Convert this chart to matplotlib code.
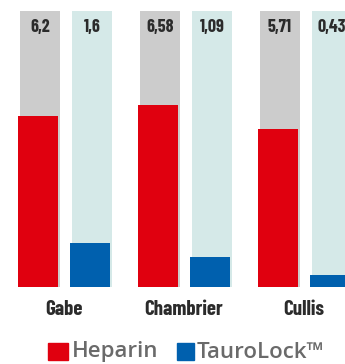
import numpy as np
import matplotlib
matplotlib.use("Agg")
import matplotlib.pyplot as plt
from matplotlib.patches import Rectangle

# Daten
studies = ["Gabe", "Chambrier", "Cullis"]
heparin = [6.2, 6.58, 5.71]
taurolock = [1.6, 1.09, 0.43]
heparin_labels = ["6,2", "6,58", "5,71"]
taurolock_labels = ["1,6", "1,09", "0,43"]
scale_max = 10

red = "#e0000f"
blue = "#0060ae"
grey_bg = "#cccccc"
teal_bg = "#d5e9e8"
text_dark = "#2b2b2b"

W, H = 345, 364
fig = plt.figure(figsize=(W / 100, H / 100), dpi=100)
ax = fig.add_axes([0, 77 / H, 1, 276 / H])

x = np.arange(len(studies))
off = 26 / 120
w = 40 / 120
shift = 2 / 120

# Hintergrundbalken (volle Skala)
ax.bar(x - off + shift, [scale_max] * 3, width=w, color=grey_bg, zorder=1)
ax.bar(x + off + shift, [scale_max] * 3, width=w, color=teal_bg, zorder=1)

# Werte
ax.bar(x - off, heparin, width=w, color=red, zorder=2)
ax.bar(x + off, taurolock, width=w, color=blue, zorder=2)

cond = ["Barlow Condensed", "DejaVu Sans"]
for i in range(len(studies)):
    ax.text(x[i] - off + shift, 9.42, heparin_labels[i], ha="center", va="center",
            fontsize=13, fontweight="bold", color=text_dark, family=cond)
    ax.text(x[i] + off + shift, 9.42, taurolock_labels[i], ha="center", va="center",
            fontsize=13, fontweight="bold", color=text_dark, family=cond)
    ax.text(x[i], -0.8, studies[i], ha="center", va="center",
            fontsize=15, fontweight="bold", color=text_dark, family=cond)

ax.set_xlim(-64 / 120, (W - 64) / 120)
ax.set_ylim(0, scale_max)
ax.axis("off")

# Legende
legend_font = ["Open Sans", "DejaVu Sans"]
fig.patches.append(Rectangle((48 / W, 4 / H), 20 / W, 17 / H, color=red,
                             transform=fig.transFigure, figure=fig))
fig.text(72 / W, 12 / H, "Heparin", fontsize=16, color="#6a6a6a", fontweight="semibold",
         va="center", ha="left", family=legend_font)
fig.patches.append(Rectangle((177 / W, 4 / H), 17 / W, 17 / H, color=blue,
                             transform=fig.transFigure, figure=fig))
fig.text(197 / W, 12 / H, "TauroLock™", fontsize=16, color="#6a6a6a", fontweight="semibold",
         va="center", ha="left", family=legend_font)

fig.savefig("out.png", dpi=100, facecolor="white")
